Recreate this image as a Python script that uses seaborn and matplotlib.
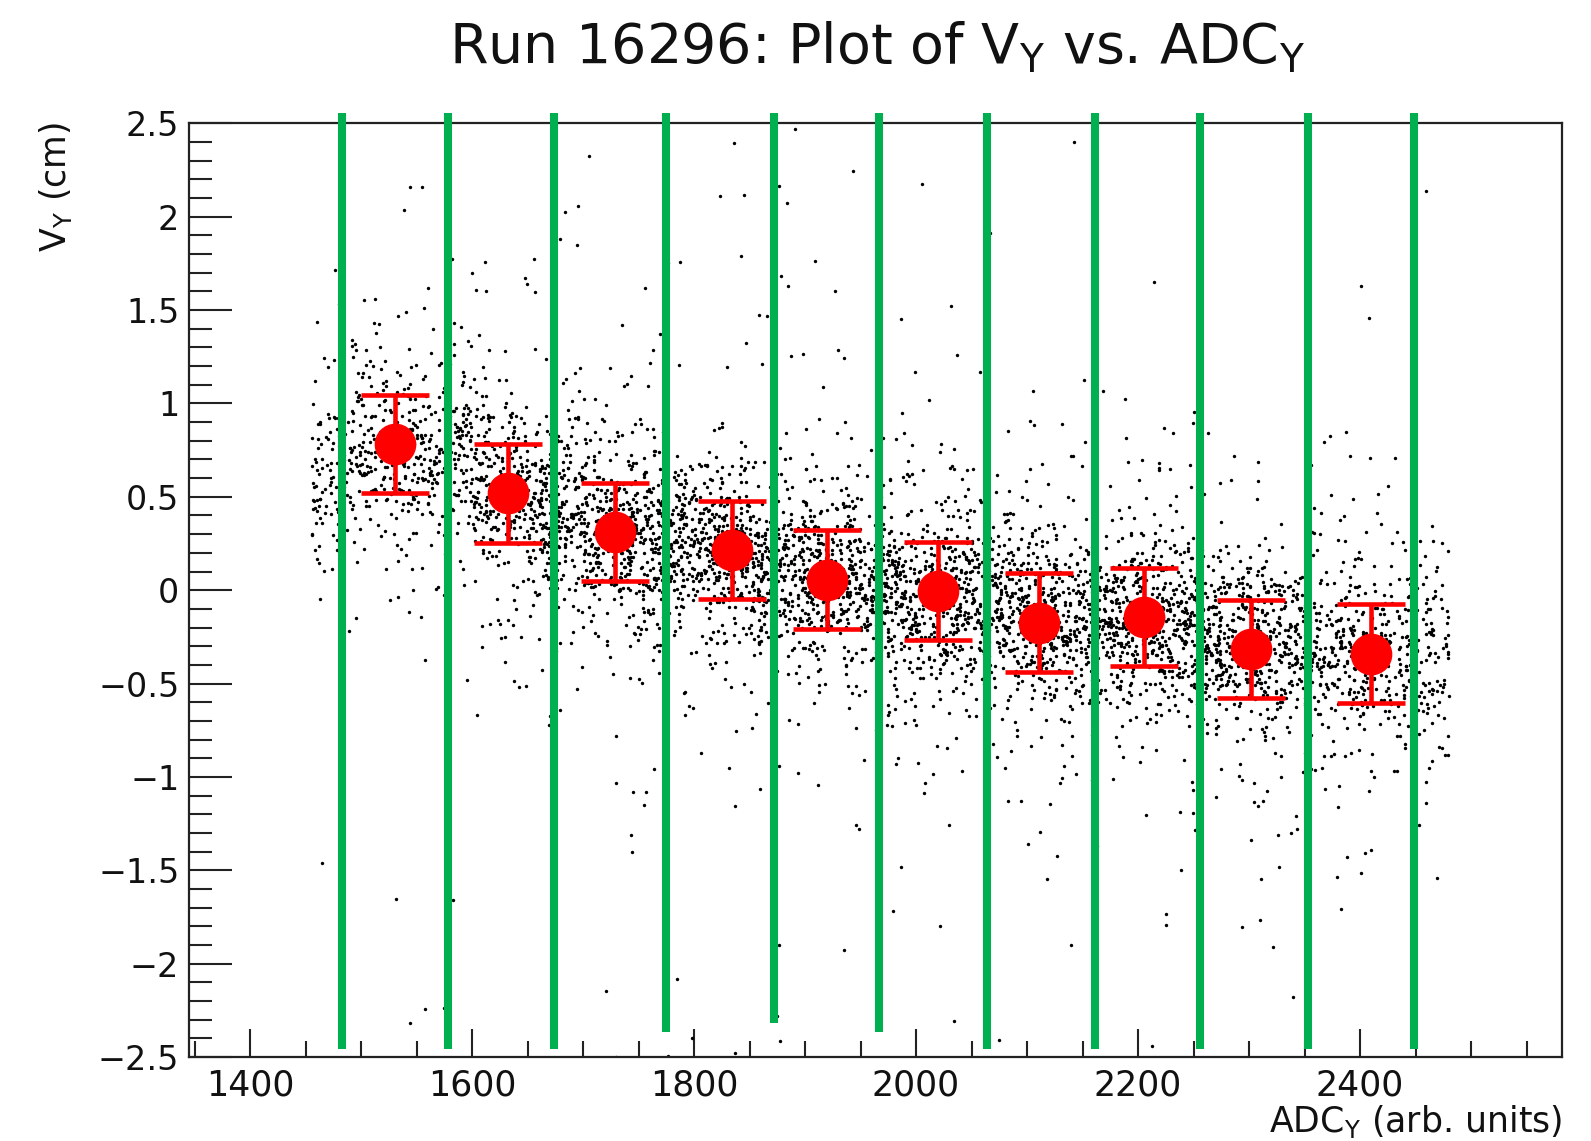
import numpy as np
import pandas as pd
import matplotlib
matplotlib.use("Agg")
import matplotlib.pyplot as plt
import seaborn as sns
from matplotlib.ticker import FixedLocator

# ---------------- data ----------------
# profile points (bin means) with their error bars
bin_x = [1531, 1632, 1729, 1834, 1920, 2020, 2111, 2205, 2302, 2410]
bin_y = [0.782, 0.518, 0.313, 0.214, 0.056, -0.005, -0.175, -0.145, -0.317, -0.340]
bin_err = [0.264, 0.265, 0.263, 0.263, 0.266, 0.264, 0.265, 0.262, 0.263, 0.264]

# green bin boundaries
line_x = [1483, 1578, 1674, 1775, 1872, 1967, 2064, 2161, 2256, 2353, 2449]
line_ymin = [-2.455, -2.455, -2.455, -2.367, -2.317, -2.367, -2.455, -2.455, -2.455, -2.455, -2.455]
line_ymax = [2.554] * 11

# background point cloud: too dense to read point by point, so it is
# described per 50-unit slice (x range, number of points, band centre, band width)
cloud_lo = [1455, 1500, 1550, 1600, 1650, 1700, 1750, 1800, 1850, 1900, 1950,
            2000, 2050, 2100, 2150, 2200, 2250, 2300, 2350, 2400, 2450]
cloud_hi = [1500, 1550, 1600, 1650, 1700, 1750, 1800, 1850, 1900, 1950, 2000,
            2050, 2100, 2150, 2200, 2250, 2300, 2350, 2400, 2450, 2480]
cloud_n = [150, 190, 210, 260, 300, 320, 320, 310, 310, 310, 310,
           310, 300, 300, 300, 300, 290, 270, 240, 200, 100]
cloud_mid = [0.66, 0.78, 0.70, 0.54, 0.42, 0.32, 0.27, 0.21, 0.12, 0.05, 0.02,
             -0.02, -0.10, -0.18, -0.17, -0.15, -0.25, -0.32, -0.33, -0.34, -0.35]
cloud_sd = [0.26, 0.25, 0.24, 0.23, 0.23, 0.23, 0.23, 0.23, 0.23, 0.23, 0.23,
            0.23, 0.23, 0.23, 0.23, 0.23, 0.23, 0.23, 0.23, 0.24, 0.25]

xtick_major = [1400, 1600, 1800, 2000, 2200, 2400]
xtick_labels = ["1400", "1600", "1800", "2000", "2200", "2400"]
ytick_major = [-2.5, -2, -1.5, -1, -0.5, 0, 0.5, 1, 1.5, 2, 2.5]
ytick_labels = ["\u22122.5", "\u22122", "\u22121.5", "\u22121", "\u22120.5", "0",
                "0.5", "1", "1.5", "2", "2.5"]

title_text = r"Run 16296: Plot of V$_{Y}$ vs. ADC$_{Y}$"
xlabel_text = r"ADC$_{Y}$ (arb. units)"
ylabel_text = r"V$_{Y}$ (cm)"

# ---------------- build cloud table ----------------
rng = np.random.default_rng(16296)
xs, ys = [], []
for lo, hi, n, mid, sd in zip(cloud_lo, cloud_hi, cloud_n, cloud_mid, cloud_sd):
    x = rng.uniform(lo, hi, n)
    kind = rng.uniform(0, 1, n)
    y = np.where(kind < 0.78, rng.normal(mid, sd, n),
                 np.where(kind < 0.975, rng.normal(mid, 0.55, n),
                          rng.uniform(-2.5, 2.5, n)))
    xs.append(x)
    ys.append(y)
cloud = pd.DataFrame({"adc": np.concatenate(xs), "vy": np.concatenate(ys)})
cloud = cloud[(cloud.vy > -2.5) & (cloud.vy < 2.5)]

# ---------------- figure ----------------
sns.set_theme(style="white")
plt.rcParams["font.family"] = ["DejaVu Sans"]
plt.rcParams["mathtext.default"] = "regular"

fig = plt.figure(figsize=(15.91, 11.41), dpi=100)
ax = fig.add_axes([0.1188, 0.0736, 0.8630, 0.8183])

sns.scatterplot(data=cloud, x="adc", y="vy", ax=ax, s=6, color="black",
                linewidth=0, marker="o", zorder=2, legend=False)

ax.vlines(line_x, line_ymin, line_ymax, colors="#00b050", linewidth=5.8,
          zorder=3, clip_on=False)

ax.errorbar(bin_x, bin_y, yerr=bin_err, fmt="o", color="#ff0000",
            markersize=29, elinewidth=3.3, capsize=24.5, capthick=3.3,
            zorder=4)

ax.set_xlim(1345, 2582)
ax.set_ylim(-2.5, 2.5)

ax.xaxis.set_major_locator(FixedLocator(xtick_major))
ax.set_xticklabels(xtick_labels)
ax.xaxis.set_minor_locator(FixedLocator(np.arange(1350, 2600, 50)))
ax.yaxis.set_major_locator(FixedLocator(ytick_major))
ax.set_yticklabels(ytick_labels)
ax.yaxis.set_minor_locator(FixedLocator(np.round(np.arange(-2.5, 2.51, 0.1), 2)))

ax.tick_params(which="both", bottom=True, left=True, top=False, right=False)
ax.tick_params(axis="x", which="major", direction="in", length=20, width=1.5,
               labelsize=25, pad=8, colors="#222222", labelcolor="#111111")
ax.tick_params(axis="x", which="minor", direction="in", length=11.5, width=1.5,
               colors="#222222")
ax.tick_params(axis="y", which="major", direction="in", length=31, width=1.5,
               labelsize=24, pad=7, colors="#222222", labelcolor="#111111")
ax.tick_params(axis="y", which="minor", direction="in", length=16.5, width=1.5,
               colors="#222222")

for sp in ax.spines.values():
    sp.set_linewidth(1.6)
    sp.set_color("#222222")
    sp.set_visible(True)

ax.set_xlabel(xlabel_text, fontsize=25, color="#111111")
ax.xaxis.set_label_coords(1.0, -0.049)
ax.xaxis.label.set_horizontalalignment("right")
ax.xaxis.label.set_verticalalignment("top")

ax.set_ylabel("")
fig.text(0.0346, 0.893, ylabel_text, rotation=90, fontsize=25,
         ha="center", va="top", color="#111111")

fig.text(0.551, 0.945, title_text, fontsize=40, ha="center", va="baseline",
         color="#111111")

fig.savefig("out.png", dpi=100)
